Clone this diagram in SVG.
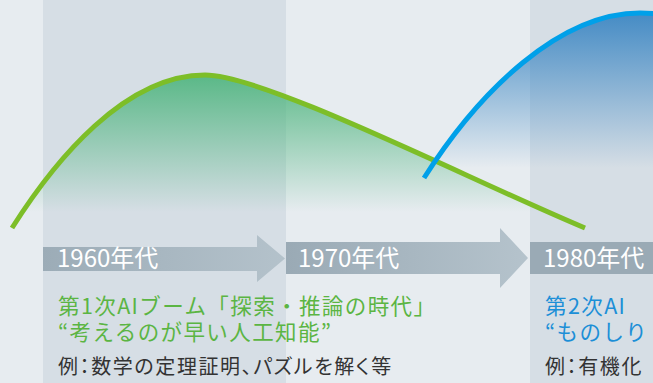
<svg xmlns="http://www.w3.org/2000/svg" width="653" height="383" viewBox="0 0 653 383">
<style>
.band{fill:#d6dee5}
.yr{font-family:"Noto Sans CJK JP","Noto Sans",sans-serif;font-size:24px;fill:#ffffff}
.h{font-family:"Noto Sans CJK JP","Noto Sans",sans-serif;font-size:21.5px;letter-spacing:1.4px}
.g{fill:#5bb543}
.b{fill:#1c8fd7}
.ex{font-family:"Noto Sans CJK JP","Noto Sans",sans-serif;font-size:20px;fill:#333333;font-feature-settings:"palt";letter-spacing:1.6px}
</style>
<defs>
<linearGradient id="gfill" gradientUnits="userSpaceOnUse" x1="0" y1="75" x2="0" y2="212">
<stop offset="0" stop-color="#4fb57f" stop-opacity="0.92"/>
<stop offset="1" stop-color="#4fb57f" stop-opacity="0"/>
</linearGradient>
<linearGradient id="bfill" gradientUnits="userSpaceOnUse" x1="0" y1="13" x2="0" y2="168">
<stop offset="0" stop-color="#3d87c3" stop-opacity="0.95"/>
<stop offset="1" stop-color="#3d87c3" stop-opacity="0"/>
</linearGradient>
<linearGradient id="a1" gradientUnits="userSpaceOnUse" x1="43" y1="0" x2="285" y2="0">
<stop offset="0" stop-color="#9cacb7"/>
<stop offset="1" stop-color="#b4c2cb"/>
</linearGradient>
<linearGradient id="a2" gradientUnits="userSpaceOnUse" x1="286" y1="0" x2="528" y2="0">
<stop offset="0" stop-color="#9aaab5"/>
<stop offset="1" stop-color="#b5c3cc"/>
</linearGradient>
</defs>
<rect id="background" x="0" y="0" width="653" height="383" fill="#e7ecf0"/>
<g id="bands">
<rect class="band" x="43" y="0" width="243" height="383"/>
<rect class="band" x="530" y="0" width="123" height="383"/>
</g>
<g id="curves">
<path d="M12,228 C55,160 125,75 205,75 C265,75 470,180 585,228 L585,240 L12,240 Z" fill="url(#gfill)"/>
<path d="M424,178 C480,90 560,13 640,13 C650,13 660,14 670,16 L670,240 L424,240 Z" fill="url(#bfill)"/>
<path d="M12,228 C55,160 125,75 205,75 C265,75 470,180 585,228" fill="none" stroke="#7dbe28" stroke-width="5"/>
<path d="M424,178 C480,90 560,13 640,13 C650,13 660,14 670,16" fill="none" stroke="#00a0e9" stroke-width="5"/>
</g>
<g id="arrow-1960">
<path d="M43,247 H257 V235 L285,258.5 L257,282 V271 H43 Z" fill="url(#a1)"/>
<text class="yr" x="57" y="267">1960年代</text>
</g>
<g id="arrow-1970">
<path d="M286,242 H500 V228 L528,258 L500,288 V274 H286 Z" fill="url(#a2)"/>
<text class="yr" x="298" y="267">1970年代</text>
</g>
<g id="arrow-1980">
<rect x="530" y="242" width="123" height="32" fill="#9aaab5"/>
<text class="yr" x="543" y="267">1980年代</text>
</g>
<g id="boom1">
<text class="h g" x="58" y="314">第1次AIブーム「探索・推論の時代」</text>
<text class="h g" x="58" y="340">“考えるのが早い人工知能”</text>
<text class="ex" x="58" y="374">例：数学の定理証明、パズルを解く等</text>
</g>
<g id="boom2">
<text class="h b" x="545" y="314" letter-spacing="3">第2次AI</text>
<text class="h b" x="545" y="340">“ものしり</text>
<text class="ex" x="545" y="374">例：有機化</text>
</g>
</svg>
